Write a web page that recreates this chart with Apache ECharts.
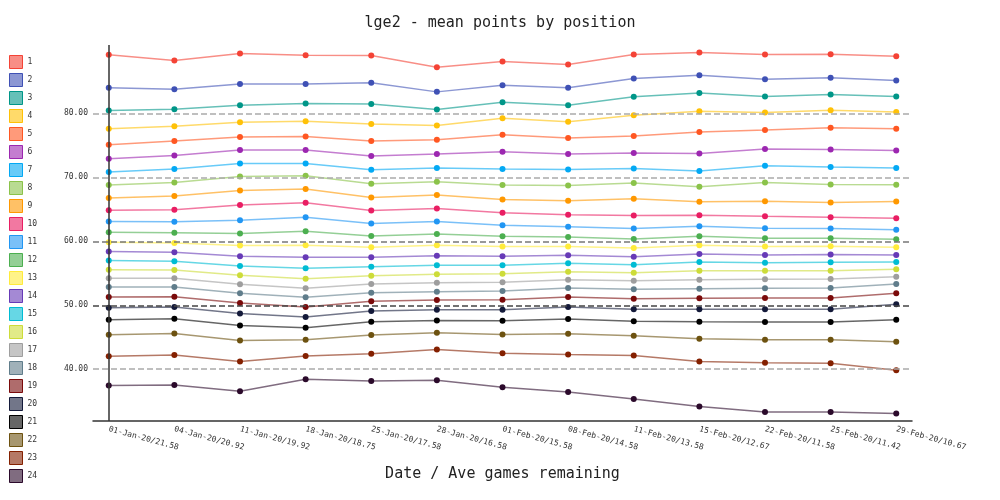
<!DOCTYPE html>
<html><head><meta charset="utf-8">
<script src="https://cdn.jsdelivr.net/npm/echarts@6/dist/echarts.min.js"></script>
<style>html,body{margin:0;padding:0;background:#fff}#c{width:1000px;height:500px}</style>
</head><body><div id="c"></div>
<script>
const dates = ['01-Jan-20','04-Jan-20','11-Jan-20','18-Jan-20','25-Jan-20','28-Jan-20','01-Feb-20','08-Feb-20','11-Feb-20','15-Feb-20','22-Feb-20','25-Feb-20','29-Feb-20'];
const gamesLeft = ['21.58','20.92','19.92','18.75','17.58','16.58','15.58','14.58','13.58','12.67','11.58','11.42','10.67'];
const positions = ['1','2','3','4','5','6','7','8','9','10','11','12','13','14','15','16','17','18','19','20','21','22','23','24'];
const refLines = [40, 50, 60, 70, 80];

const p1  = [89.17, 88.28, 89.37, 89.11, 89.06, 87.23, 88.12, 87.65, 89.22, 89.53, 89.22, 89.26, 88.95];
const p2  = [84.00, 83.78, 84.62, 84.62, 84.78, 83.37, 84.40, 84.00, 85.45, 85.97, 85.35, 85.56, 85.14];
const p3  = [80.44, 80.64, 81.27, 81.54, 81.49, 80.60, 81.74, 81.27, 82.59, 83.21, 82.63, 82.95, 82.63];
const p4  = [77.62, 77.98, 78.61, 78.76, 78.35, 78.13, 79.23, 78.71, 79.70, 80.33, 80.13, 80.49, 80.23];
const p5  = [75.11, 75.69, 76.32, 76.41, 75.69, 75.89, 76.68, 76.16, 76.47, 77.10, 77.41, 77.77, 77.62];
const p6  = [72.92, 73.43, 74.28, 74.28, 73.34, 73.65, 74.01, 73.65, 73.81, 73.75, 74.44, 74.37, 74.22];
const p7  = [70.83, 71.30, 72.18, 72.18, 71.19, 71.46, 71.30, 71.24, 71.39, 70.99, 71.82, 71.61, 71.46];
const p8  = [68.79, 69.20, 70.14, 70.25, 69.00, 69.31, 68.79, 68.73, 69.11, 68.53, 69.20, 68.89, 68.84];
const p9  = [66.76, 67.07, 67.95, 68.17, 66.85, 67.23, 66.54, 66.33, 66.65, 66.18, 66.28, 66.07, 66.22];
const p10 = [64.87, 64.92, 65.66, 66.02, 64.81, 65.13, 64.45, 64.14, 64.03, 64.09, 63.93, 63.78, 63.62];
const p11 = [63.09, 63.04, 63.31, 63.78, 62.77, 63.09, 62.52, 62.26, 61.99, 62.37, 62.05, 61.99, 61.79];
const p12 = [61.43, 61.32, 61.21, 61.58, 60.85, 61.16, 60.80, 60.69, 60.38, 60.80, 60.49, 60.49, 60.33];
const p13 = [59.86, 59.75, 59.33, 59.39, 59.08, 59.39, 59.17, 59.17, 58.97, 59.39, 59.17, 59.23, 59.08];
const p14 = [58.39, 58.29, 57.66, 57.51, 57.51, 57.76, 57.66, 57.82, 57.60, 58.03, 57.87, 57.92, 57.87];
const p15 = [56.98, 56.88, 56.14, 55.78, 56.03, 56.25, 56.25, 56.57, 56.35, 56.77, 56.66, 56.72, 56.77];
const p16 = [55.56, 55.52, 54.69, 54.15, 54.62, 54.84, 54.94, 55.25, 55.09, 55.41, 55.41, 55.41, 55.63];
const p17 = [54.22, 54.22, 53.28, 52.65, 53.32, 53.53, 53.59, 54.00, 53.84, 54.00, 54.06, 54.11, 54.47];
const p18 = [52.85, 52.85, 51.87, 51.24, 51.96, 52.12, 52.23, 52.70, 52.49, 52.59, 52.65, 52.70, 53.32];
const p19 = [51.29, 51.33, 50.34, 49.72, 50.61, 50.82, 50.86, 51.29, 51.02, 51.08, 51.13, 51.13, 51.87];
const p20 = [49.61, 49.72, 48.73, 48.15, 49.09, 49.29, 49.29, 49.72, 49.36, 49.36, 49.36, 49.36, 50.14];
const p21 = [47.73, 47.88, 46.85, 46.47, 47.41, 47.63, 47.57, 47.84, 47.48, 47.41, 47.37, 47.37, 47.73];
const p22 = [45.38, 45.60, 44.50, 44.59, 45.33, 45.69, 45.44, 45.53, 45.22, 44.75, 44.59, 44.59, 44.28];
const p23 = [42.04, 42.24, 41.21, 42.08, 42.40, 43.09, 42.51, 42.30, 42.15, 41.21, 40.99, 40.94, 39.84];
const p24 = [37.45, 37.54, 36.55, 38.43, 38.17, 38.28, 37.18, 36.44, 35.34, 34.15, 33.31, 33.31, 33.06];
const values = [p1,p2,p3,p4,p5,p6,p7,p8,p9,p10,p11,p12,p13,p14,p15,p16,p17,p18,p19,p20,p21,p22,p23,p24];

const palette = ['#F44336','#3F51B5','#009688','#FFC107','#FF5722','#9C27B0','#03A9F4','#8BC34A',
  '#FF9800','#E91E63','#2196F3','#4CAF50','#FFEB3B','#673AB7','#00BCD4','#CDDC39',
  '#9E9E9E','#607D8B','#7a0a0a','#141a3a','#000000','#6d5210','#842000','#2b0a2b'];
const refColors = ['#aaaaaa','#444444','#777777','#aaaaaa','#aaaaaa'];
const MONO = '"DejaVu Sans Mono", monospace';

function rgba(hex, a) {
  const n = parseInt(hex.slice(1), 16);
  return 'rgba(' + ((n >> 16) & 255) + ',' + ((n >> 8) & 255) + ',' + (n & 255) + ',' + a + ')';
}

const series = positions.map((name, s) => {
  const obj = {
    type: 'line', name: name,
    data: values[s].map((v, i) => [i, v]),
    symbol: 'circle', symbolSize: 6, showSymbol: true,
    itemStyle: { color: palette[s] },
    lineStyle: { width: 1.5, color: rgba(palette[s], 0.6) },
    animation: false
  };
  if (s === 0) {
    obj.markLine = {
      silent: true, symbol: 'none', animation: false,
      data: refLines.map((v, k) => ({
        yAxis: v,
        lineStyle: { color: refColors[k], type: 'dashed', width: 1.5 },
        label: { show: true, position: 'start', formatter: v.toFixed(2), fontFamily: MONO, fontSize: 8, color: '#333', distance: 5 }
      })).concat([{
        xAxis: 0,
        lineStyle: { color: '#333', type: 'solid', width: 1.5 },
        label: { show: false }
      }])
    };
  }
  return obj;
});

const chart = echarts.init(document.getElementById('c'), null, { renderer: 'canvas' });
chart.setOption({
  backgroundColor: '#fff',
  animation: false,
  title: {
    text: 'lge2 - mean points by position', left: 'center', top: 11,
    textStyle: { fontFamily: MONO, fontSize: 15, fontWeight: 'normal', color: '#222' }
  },
  legend: {
    orient: 'vertical', left: 9, top: 55, height: 445, padding: 0,
    itemWidth: 13, itemHeight: 13, itemGap: 4, itemTextGap: 5,
    textStyle: { fontFamily: MONO, fontSize: 8, color: '#333' },
    data: positions.map((name, s) => ({
      name: name, icon: 'rect',
      itemStyle: { color: rgba(palette[s], 0.6), borderColor: palette[s], borderWidth: 1, opacity: 1 }
    }))
  },
  grid: { left: 93, right: 88, top: 45, bottom: 79, containLabel: false },
  xAxis: {
    type: 'value', min: -0.24, max: 12.24,
    axisLine: { onZero: false, lineStyle: { color: '#333', width: 1.5 } },
    axisTick: { show: false },
    splitLine: { show: false },
    axisLabel: {
      customValues: dates.map((d, i) => i),
      formatter: v => { const i = Math.round(v); return dates[i] + '/' + gamesLeft[i]; },
      rotate: -15, fontFamily: MONO, fontSize: 8, color: '#333', margin: 8
    },
    name: 'Date / Ave games remaining', nameLocation: 'middle', nameGap: 46,
    nameTextStyle: { fontFamily: MONO, fontSize: 15, color: '#222' }
  },
  yAxis: {
    type: 'value', min: 31.9, max: 90.7, show: false,
    splitLine: { show: false }
  },
  series: series
});
</script></body></html>
